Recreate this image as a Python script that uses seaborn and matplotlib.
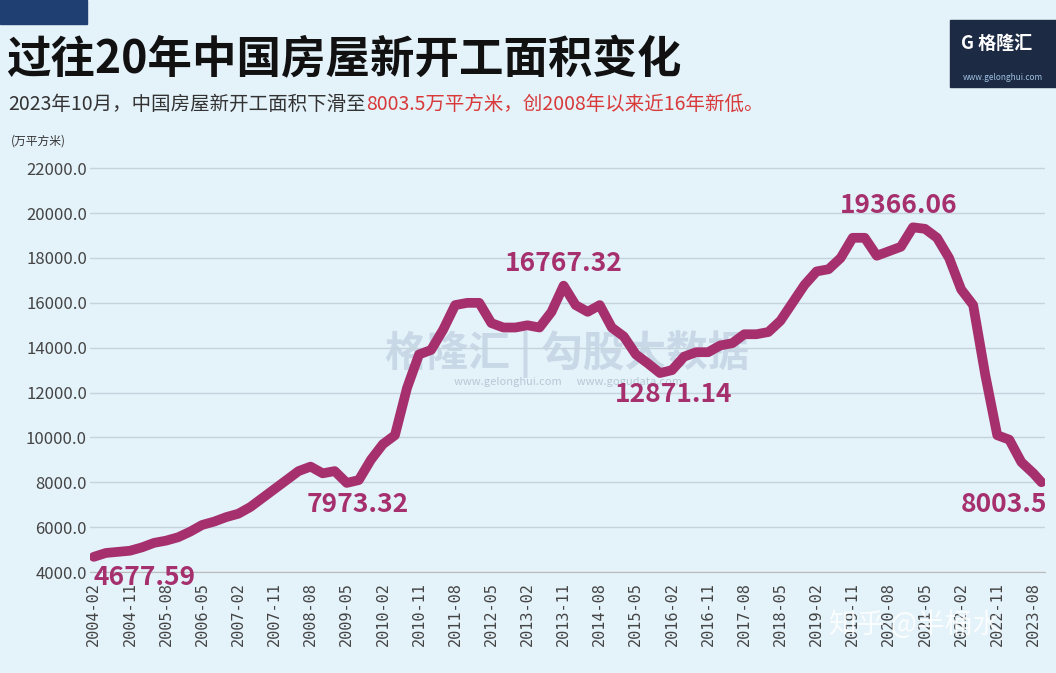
import numpy as np
import pandas as pd
import matplotlib.pyplot as plt
import seaborn as sns

# quarterly readings from 2004-02, plus the last month 2023-10
values = [4678, 4850, 4900, 4950,
          5100, 5300, 5400, 5550,
          5800, 6100, 6250, 6450,
          6600, 6900, 7300, 7700,
          8100, 8500, 8700, 8400,
          8500, 7973.32, 8100, 9000,
          9700, 10100, 12200, 13700,
          13900, 14800, 15900, 16000,
          16000, 15100, 14900, 14900,
          15000, 14900, 15600, 16767.32,
          15900, 15600, 15900, 14900,
          14500, 13700, 13300, 12871.14,
          13000, 13600, 13800, 13800,
          14100, 14200, 14600, 14600,
          14700, 15200, 16000, 16800,
          17400, 17500, 18000, 18900,
          18900, 18100, 18300, 18500,
          19366.06, 19300, 18900, 18000,
          16600, 15900, 12800, 10100,
          9900, 8900, 8400, 8003.5]
months = list(range(0, 237, 3))[:len(values) - 1] + [236]

tick_labels = ['2004-02', '2004-11', '2005-08', '2006-05', '2007-02', '2007-11', '2008-08',
               '2009-05', '2010-02', '2010-11', '2011-08', '2012-05', '2013-02', '2013-11',
               '2014-08', '2015-05', '2016-02', '2016-11', '2017-08', '2018-05', '2019-02',
               '2019-11', '2020-08', '2021-05', '2022-02', '2022-11', '2023-08']

df = pd.DataFrame({'month': months, 'value': values})

sns.set_style('white')
plt.rcParams['font.family'] = ['Noto Sans CJK SC', 'DejaVu Sans']
bg = '#e4f2fa'
purple = '#a5306d'

fig = plt.figure(figsize=(10.56, 6.73), dpi=100, facecolor=bg)
ax = fig.add_axes([0.085, 0.15, 0.905, 0.61], facecolor=bg)
sns.lineplot(data=df, x='month', y='value', ax=ax, color=purple, linewidth=7)

ax.set_xlim(-1, 237)
ax.set_ylim(4000, 22300)
ax.set_yticks(np.arange(4000, 22001, 2000))
ax.set_yticklabels([f'{v:.1f}' for v in range(4000, 22001, 2000)], fontsize=12, color='#444444')
ax.set_xticks(np.arange(0, 235, 9))
ax.set_xticklabels(tick_labels, rotation=90, fontsize=11, color='#444444',
                   family='DejaVu Sans Mono')
ax.grid(axis='y', color='#c5d3dc', linewidth=1)
ax.tick_params(axis='x', length=4, color='#999999')
ax.tick_params(axis='y', length=0, pad=2)
for s in ['top', 'right', 'left']:
    ax.spines[s].set_visible(False)
ax.spines['bottom'].set_color('#bbbbbb')
ax.set_xlabel('')
ax.set_ylabel('')

# annotations
ann = [(0, 4677.59, '4677.59', 'left', 'top', 0, -5),
       (21, 7973.32, '7973.32', 'center', 'top', 8, -6),
       (39, 16767.32, '16767.32', 'center', 'bottom', 0, 6),
       (47, 12871.14, '12871.14', 'center', 'top', 10, -6),
       (68, 19366.06, '19366.06', 'center', 'bottom', -10, 6),
       (79, 8003.5, '8003.5', 'right', 'top', 4, -6)]
for i, v, t, ha, va, dx, dy in ann:
    ax.annotate(t, (months[i], v), xytext=(dx, dy), textcoords='offset points',
                ha=ha, va=va, fontsize=19, color=purple, fontweight='semibold',
                annotation_clip=False)

# watermark
ax.text(0.5, 0.53, '格隆汇 | 勾股大数据', transform=ax.transAxes, fontsize=30,
        color='#c9d8e6', ha='center', va='center', zorder=0, fontweight='bold')
ax.text(0.5, 0.455, 'www.gelonghui.com      www.gogudata.com', transform=ax.transAxes,
        fontsize=8, color='#b8c8d6', ha='center', zorder=0)
fig.text(0.785, 0.06, '知乎 @半桶水', fontsize=20, color='white', alpha=0.85)

# titles
fig.text(0.006, 0.91, '过往20年中国房屋新开工面积变化', fontsize=32, fontweight='bold',
         color='#111111', va='center')
t1 = fig.text(0.008, 0.845, '2023年10月，中国房屋新开工面积下滑至', fontsize=14,
              color='#333333', va='center')
fig.canvas.draw()
bb = t1.get_window_extent()
x2 = bb.x1 / fig.bbox.width
fig.text(x2, 0.845, '8003.5万平方米，创2008年以来近16年新低。', fontsize=14,
         color='#d83a3a', va='center')
fig.text(0.01, 0.79, '(万平方米)', fontsize=8.5, color='#333333', va='center')

# decorative boxes
fig.patches.append(plt.Rectangle((0.0, 0.965), 0.082, 0.035, transform=fig.transFigure,
                                 color='#1f3f73'))
fig.patches.append(plt.Rectangle((0.9, 0.87), 0.1, 0.1, transform=fig.transFigure,
                                 color='#1c2a44'))
fig.text(0.91, 0.935, 'G 格隆汇', fontsize=13, color='white', fontweight='bold', va='center')
fig.text(0.912, 0.885, 'www.gelonghui.com', fontsize=6, color='#9fc0e0', va='center')

fig.savefig('out.png', dpi=100, facecolor=bg)
